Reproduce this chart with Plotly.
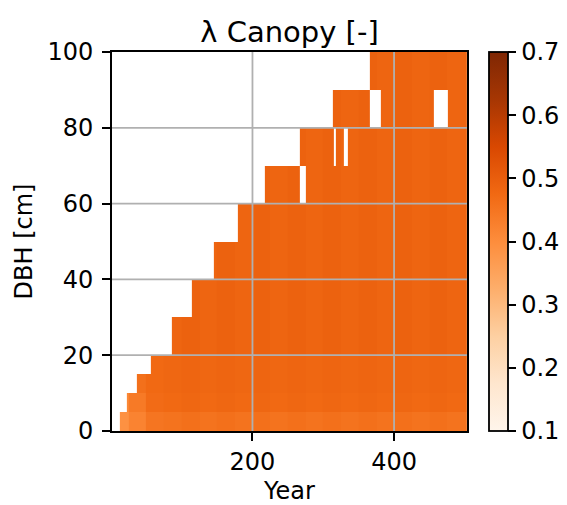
import plotly.graph_objects as go
import plotly.colors as pc

# DBH class edges [cm]
dbh_edges = [0, 5, 10, 15, 20, 30, 40, 50, 60, 70, 80, 90, 100]

# First simulation year in which each DBH class is populated
first_year = [12.8, 22.2, 36.8, 56.5, 86.2, 114.4, 145.9, 178.9, 217.5, 267.3, 313.0, 365.7]

# Periods (start, end) in which a class is empty
empty_periods = [
    [], [], [], [], [], [], [], [],
    [(267.3, 275.3)],
    [(314.5, 317.7), (328.5, 334.6)],
    [(365.7, 381.6), (455.5, 475.7)],
    [],
]

# Mean canopy lambda per DBH class in 25-year periods (0-25, 25-50, ..., 475-500)
period_len = 25
lam = [
    [0.39, 0.42, 0.45, 0.455, 0.46, 0.455, 0.46, 0.455, 0.46, 0.455, 0.46, 0.455, 0.46, 0.455, 0.46, 0.455, 0.46, 0.455, 0.46, 0.455],
    [0.41, 0.44, 0.47, 0.475, 0.48, 0.475, 0.48, 0.475, 0.48, 0.475, 0.48, 0.475, 0.48, 0.475, 0.48, 0.475, 0.48, 0.475, 0.48, 0.475],
    [None, 0.46, 0.475, 0.48, 0.485, 0.48, 0.485, 0.48, 0.485, 0.48, 0.485, 0.48, 0.485, 0.48, 0.485, 0.48, 0.485, 0.48, 0.485, 0.48],
    [None, None, 0.475, 0.48, 0.485, 0.48, 0.485, 0.48, 0.485, 0.48, 0.485, 0.48, 0.485, 0.48, 0.485, 0.48, 0.485, 0.48, 0.485, 0.48],
    [None, None, None, 0.485, 0.49, 0.485, 0.49, 0.485, 0.49, 0.485, 0.49, 0.485, 0.49, 0.485, 0.49, 0.485, 0.49, 0.485, 0.49, 0.485],
    [None, None, None, None, 0.49, 0.485, 0.49, 0.485, 0.49, 0.485, 0.49, 0.485, 0.49, 0.485, 0.49, 0.485, 0.49, 0.485, 0.49, 0.485],
    [None, None, None, None, None, 0.485, 0.49, 0.485, 0.49, 0.485, 0.49, 0.485, 0.49, 0.485, 0.49, 0.485, 0.49, 0.485, 0.49, 0.485],
    [None, None, None, None, None, None, None, 0.485, 0.49, 0.485, 0.49, 0.485, 0.49, 0.485, 0.49, 0.485, 0.49, 0.485, 0.49, 0.485],
    [None, None, None, None, None, None, None, None, 0.49, 0.485, 0.49, 0.485, 0.49, 0.485, 0.49, 0.485, 0.49, 0.485, 0.49, 0.485],
    [None, None, None, None, None, None, None, None, None, None, 0.49, 0.485, 0.49, 0.485, 0.49, 0.485, 0.49, 0.485, 0.49, 0.485],
    [None, None, None, None, None, None, None, None, None, None, None, None, 0.49, 0.485, 0.49, 0.485, 0.49, 0.485, 0.49, 0.485],
    [None, None, None, None, None, None, None, None, None, None, None, None, None, None, 0.49, 0.485, 0.49, 0.485, 0.49, 0.485],
]

year_end = 503
x_ticks = [200, 400]
y_ticks = [0, 20, 40, 60, 80, 100]
cbar_ticks = [0.1, 0.2, 0.3, 0.4, 0.5, 0.6, 0.7]

# Column edges: period boundaries plus every start / gap boundary
edges = set(range(0, 501, period_len)) | {year_end}
edges |= set(first_year)
for gl in empty_periods:
    for a, b in gl:
        edges |= {a, b}
x_edges = sorted(edges)

z = []
for r in range(len(first_year)):
    row = []
    for a, b in zip(x_edges[:-1], x_edges[1:]):
        c = 0.5 * (a + b)
        idx = min(int(c // period_len), len(lam[r]) - 1)
        v = lam[r][idx]
        if c < first_year[r] or any(g0 <= c < g1 for g0, g1 in empty_periods[r]):
            v = None
        row.append(v)
    z.append(row)

font = "DejaVu Sans"
tick_size = 24
line_w = 1.8

fig = go.Figure(go.Heatmap(
    x=x_edges, y=dbh_edges, z=z,
    colorscale=pc.sequential.Oranges, zmin=0.1, zmax=0.7,
    hoverongaps=False,
    colorbar=dict(
        x=1.062, xanchor="left", xpad=0, y=0.5, yanchor="middle", ypad=0,
        len=1, lenmode="fraction", thickness=19,
        outlinecolor="black", outlinewidth=line_w,
        ticks="outside", ticklen=8, tickwidth=line_w, tickcolor="black",
        tickvals=cbar_ticks, ticktext=[f"{t:.1f}" for t in cbar_ticks],
        tickfont=dict(family=font, size=tick_size, color="black"),
    ),
))

grid_color = "#b0b0b0"
shapes = []
for xv in x_ticks:
    shapes.append(dict(type="line", xref="x", yref="paper", x0=xv, x1=xv, y0=0, y1=1,
                       line=dict(color=grid_color, width=1.8), layer="above"))
for yv in y_ticks[1:-1]:
    shapes.append(dict(type="line", xref="paper", yref="y", x0=0, x1=1, y0=yv, y1=yv,
                       line=dict(color=grid_color, width=1.8), layer="above"))

fig.update_layout(
    width=567, height=505,
    margin=dict(l=112, r=100, t=52, b=74, autoexpand=False),
    paper_bgcolor="white", plot_bgcolor="white",
    font=dict(family=font, size=tick_size, color="black"),
    title=dict(text="λ Canopy [-]", x=0.5, xref="paper", y=1 - 32 / 505, yref="container",
               xanchor="center", yanchor="middle", font=dict(family=font, size=29)),
    shapes=shapes,
    xaxis=dict(range=[1.6, year_end], tickvals=x_ticks, showgrid=False, zeroline=False,
               showline=True, linecolor="black", linewidth=line_w, mirror=True,
               ticks="outside", ticklen=8, tickwidth=line_w, tickcolor="black",
               tickfont=dict(size=tick_size), automargin=False,
               title=dict(text="Year", standoff=10, font=dict(size=tick_size)), layer="above traces"),
    yaxis=dict(range=[0, 100], tickvals=y_ticks, showgrid=False, zeroline=False,
               showline=True, linecolor="black", linewidth=line_w, mirror=True,
               ticks="outside", ticklen=8, tickwidth=line_w, tickcolor="black",
               tickfont=dict(size=tick_size), ticklabelstandoff=4, automargin=False,
               title=dict(text="DBH [cm]", standoff=8, font=dict(size=tick_size)), layer="above traces"),
)

fig.write_html("out.html")
